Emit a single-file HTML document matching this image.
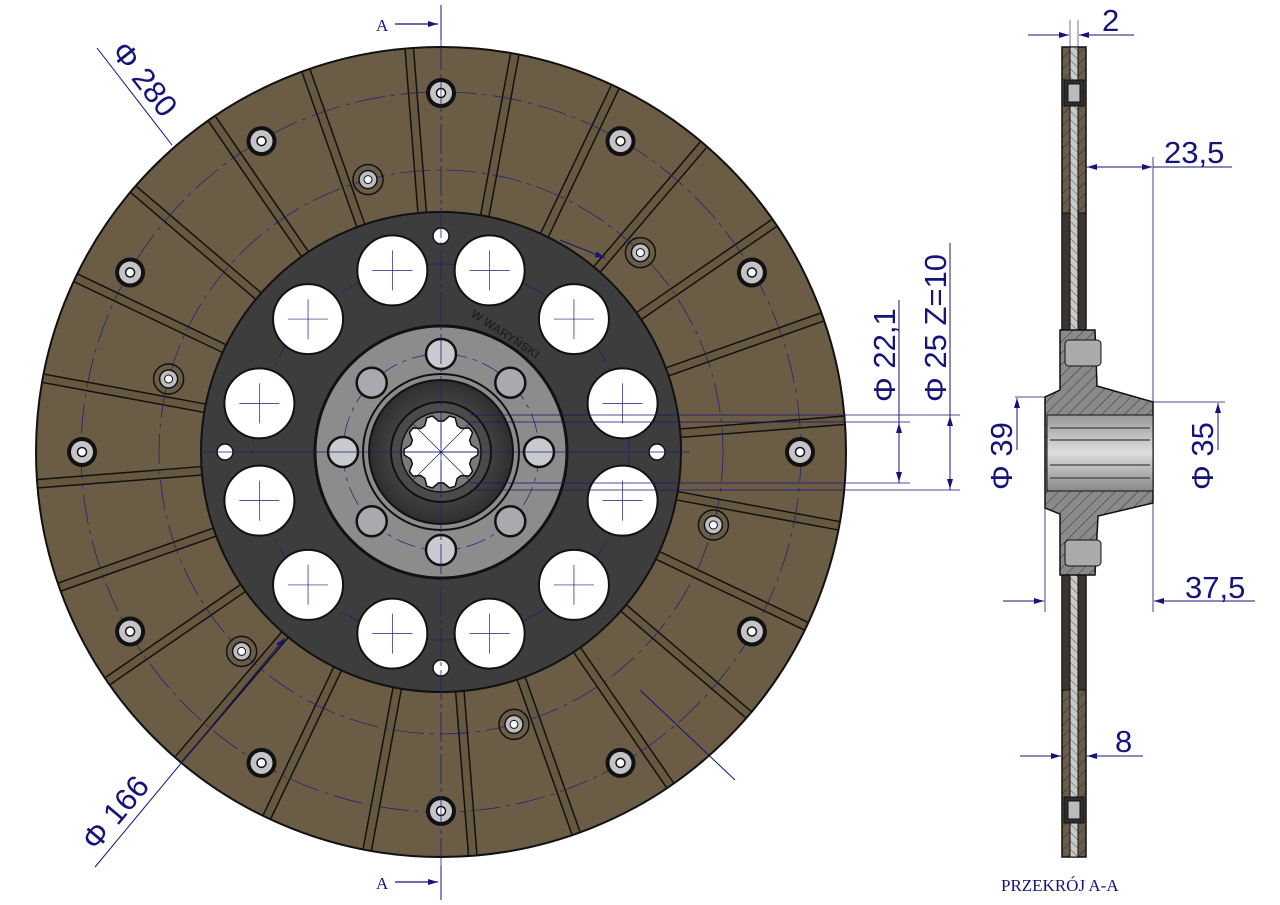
<!DOCTYPE html>
<html><head><meta charset="utf-8"><style>
html,body{margin:0;padding:0;background:#fff;}
svg{display:block;}
.dim{font-family:"Liberation Sans",sans-serif;font-size:31px;fill:#14147a;}
</style></head><body>
<svg id="s" width="1280" height="905" viewBox="0 0 1280 905" xmlns="http://www.w3.org/2000/svg">
<defs>
<pattern id="hat" width="8" height="8" patternUnits="userSpaceOnUse" patternTransform="rotate(45)">
<rect width="8" height="8" fill="#8a8a8a"/><line x1="0" y1="0" x2="0" y2="8" stroke="#333" stroke-width="1"/></pattern>
<pattern id="hatb" width="8" height="8" patternUnits="userSpaceOnUse" patternTransform="rotate(45)">
<rect width="8" height="8" fill="#6a5c48"/><line x1="0" y1="0" x2="0" y2="8" stroke="#2a2a2a" stroke-width="1"/></pattern>
<pattern id="hatl" width="6" height="6" patternUnits="userSpaceOnUse" patternTransform="rotate(-45)">
<rect width="6" height="6" fill="#c9c9c9"/><line x1="0" y1="0" x2="0" y2="6" stroke="#555" stroke-width="1"/></pattern>
<radialGradient id="hubg" cx="0.5" cy="0.5" r="0.5"><stop offset="0" stop-color="#6a6a6a"/><stop offset="1" stop-color="#2e2e2e"/></radialGradient>
<linearGradient id="spl" x1="0" y1="0" x2="0" y2="1"><stop offset="0" stop-color="#999"/><stop offset="0.5" stop-color="#ddd"/><stop offset="1" stop-color="#888"/></linearGradient>
<marker id="ar" viewBox="0 0 10 6" refX="10" refY="3" markerWidth="18" markerHeight="6" markerUnits="userSpaceOnUse" orient="auto"><path d="M0,0 L10,3 L0,6 Z" fill="#14147a"/></marker>
</defs>
<circle cx="441" cy="452" r="405" fill="#6b5c45" stroke="#111" stroke-width="2"/>
<g id="grooves"></g>
<circle cx="441" cy="452" r="240" fill="#3d3d3d" stroke="#111" stroke-width="2"/>
<g id="plate"></g>
<circle cx="441" cy="452" r="126" fill="#8c8c8c" stroke="#111" stroke-width="3"/>
<circle cx="441" cy="452" r="78" fill="none" stroke="#111" stroke-width="2"/>
<circle cx="441" cy="452" r="72" fill="url(#hubg)" stroke="#111" stroke-width="2"/>
<circle cx="441" cy="452" r="50" fill="#4a4a4a" stroke="#111" stroke-width="2"/>
<circle cx="441" cy="452" r="40" fill="#7a7a7a" stroke="#111" stroke-width="1.5"/>
<g id="hub"></g>
<text x="0" y="0" transform="translate(470,316) rotate(33)" font-family="Liberation Sans,sans-serif" font-size="12" font-weight="bold" fill="#222">W WARYŃSKI</text>
<line x1="441" y1="5" x2="441" y2="40" stroke="#14147a" stroke-width="1"/>
<line x1="441" y1="40" x2="441" y2="866" stroke="#1c1c7a" stroke-width="0.8" stroke-dasharray="30 4 4 4"/>
<line x1="441" y1="866" x2="441" y2="900" stroke="#14147a" stroke-width="1"/>
<line x1="200" y1="452" x2="690" y2="452" stroke="#1c1c7a" stroke-width="0.8"/>
<text x="376" y="31" font-family="Liberation Serif,serif" font-size="17" fill="#14147a">A</text>
<line x1="395" y1="24" x2="438" y2="24" stroke="#14147a" stroke-width="1.2" marker-end="url(#ar)"/>
<text x="376" y="889" font-family="Liberation Serif,serif" font-size="17" fill="#14147a">A</text>
<line x1="395" y1="882" x2="438" y2="882" stroke="#14147a" stroke-width="1.2" marker-end="url(#ar)"/>
<line x1="97" y1="48" x2="172" y2="145" stroke="#14147a" stroke-width="1"/>
<text class="dim" transform="translate(110,52) rotate(52)">Φ 280</text>
<line x1="95" y1="867" x2="285" y2="638" stroke="#14147a" stroke-width="1" marker-end="url(#ar)"/>
<text class="dim" transform="translate(96,852) rotate(-50)">Φ 166</text>
<line x1="640" y1="690" x2="735" y2="780" stroke="#14147a" stroke-width="1"/>
<line x1="560" y1="240" x2="605" y2="258" stroke="#14147a" stroke-width="1" marker-end="url(#ar)"/>
<line x1="470" y1="415" x2="960" y2="415" stroke="#14147a" stroke-width="0.8"/>
<line x1="470" y1="422" x2="910" y2="422" stroke="#14147a" stroke-width="0.8"/>
<line x1="470" y1="483" x2="910" y2="483" stroke="#14147a" stroke-width="0.8"/>
<line x1="470" y1="490" x2="960" y2="490" stroke="#14147a" stroke-width="0.8"/>
<line x1="899" y1="300" x2="899" y2="483" stroke="#14147a" stroke-width="1"/>
<line x1="899" y1="440" x2="899" y2="423" stroke="#14147a" stroke-width="1" marker-end="url(#ar)"/>
<line x1="899" y1="465" x2="899" y2="482" stroke="#14147a" stroke-width="1" marker-end="url(#ar)"/>
<line x1="950" y1="243" x2="950" y2="490" stroke="#14147a" stroke-width="1"/>
<line x1="950" y1="435" x2="950" y2="416" stroke="#14147a" stroke-width="1" marker-end="url(#ar)"/>
<line x1="950" y1="470" x2="950" y2="489" stroke="#14147a" stroke-width="1" marker-end="url(#ar)"/>
<text class="dim" transform="translate(895,402) rotate(-90)">Φ 22,1</text>
<text class="dim" transform="translate(946,402) rotate(-90)">Φ 25  Z=10</text>
<rect x="1062" y="47" width="24" height="810" fill="url(#hatb)" stroke="#111" stroke-width="1.5"/>
<rect x="1062" y="213" width="24" height="117" fill="#3a3530" stroke="#111" stroke-width="1"/>
<rect x="1062" y="575" width="24" height="115" fill="#3a3530" stroke="#111" stroke-width="1"/>
<rect x="1070" y="47" width="8" height="810" fill="url(#hatl)" stroke="#111" stroke-width="1"/>
<g fill="#bbb" stroke="#111" stroke-width="1">
<rect x="1064" y="80" width="20" height="26" fill="#2e2e2e"/><rect x="1068" y="84" width="12" height="18" fill="#bbb"/>
<rect x="1064" y="797" width="20" height="26" fill="#2e2e2e"/><rect x="1068" y="801" width="12" height="18" fill="#bbb"/>
</g>
<polygon points="1060,330 1095,330 1097,386 1153,402 1153,503 1098,516 1095,575 1060,575 1060,514 1045,508 1045,397 1060,390" fill="url(#hat)" stroke="#111" stroke-width="1.5"/>
<rect x="1047" y="415" width="106" height="76" fill="url(#spl)" stroke="#111" stroke-width="1"/>
<g stroke="#555" stroke-width="1.5"><line x1="1050" y1="428" x2="1150" y2="428"/><line x1="1050" y1="440" x2="1150" y2="440"/><line x1="1050" y1="465" x2="1150" y2="465"/><line x1="1050" y1="478" x2="1150" y2="478"/></g>
<g fill="#aaa" stroke="#111" stroke-width="1">
<rect x="1065" y="340" width="36" height="26" rx="4"/><rect x="1065" y="540" width="36" height="26" rx="4"/>
</g>
<line x1="1070" y1="20" x2="1070" y2="47" stroke="#14147a" stroke-width="0.6"/>
<line x1="1078" y1="20" x2="1078" y2="47" stroke="#14147a" stroke-width="0.6"/>
<line x1="1028" y1="35" x2="1069" y2="35" stroke="#14147a" stroke-width="1" marker-end="url(#ar)"/>
<line x1="1134" y1="35" x2="1079" y2="35" stroke="#14147a" stroke-width="1" marker-end="url(#ar)"/>
<text class="dim" x="1102" y="31">2</text>
<line x1="1153" y1="157" x2="1153" y2="402" stroke="#14147a" stroke-width="0.8"/>
<line x1="1130" y1="167" x2="1087" y2="167" stroke="#14147a" stroke-width="1" marker-end="url(#ar)"/>
<line x1="1110" y1="167" x2="1152" y2="167" stroke="#14147a" stroke-width="1" marker-end="url(#ar)"/>
<line x1="1153" y1="167" x2="1232" y2="167" stroke="#14147a" stroke-width="1"/>
<text class="dim" x="1164" y="163">23,5</text>
<line x1="1045" y1="508" x2="1045" y2="612" stroke="#14147a" stroke-width="0.8"/>
<line x1="1153" y1="503" x2="1153" y2="612" stroke="#14147a" stroke-width="0.8"/>
<line x1="1003" y1="601" x2="1044" y2="601" stroke="#14147a" stroke-width="1" marker-end="url(#ar)"/>
<line x1="1255" y1="601" x2="1154" y2="601" stroke="#14147a" stroke-width="1" marker-end="url(#ar)"/>
<text class="dim" x="1185" y="598">37,5</text>
<line x1="1020" y1="756" x2="1061" y2="756" stroke="#14147a" stroke-width="1" marker-end="url(#ar)"/>
<line x1="1143" y1="756" x2="1087" y2="756" stroke="#14147a" stroke-width="1" marker-end="url(#ar)"/>
<text class="dim" x="1115" y="752">8</text>
<line x1="1015" y1="397" x2="1045" y2="397" stroke="#14147a" stroke-width="0.8"/>
<line x1="1017" y1="450" x2="1017" y2="398" stroke="#14147a" stroke-width="1" marker-end="url(#ar)"/>
<text class="dim" transform="translate(1012,490) rotate(-90)">Φ 39</text>
<line x1="1153" y1="402" x2="1225" y2="402" stroke="#14147a" stroke-width="0.8"/>
<line x1="1218" y1="450" x2="1218" y2="403" stroke="#14147a" stroke-width="1" marker-end="url(#ar)"/>
<text class="dim" transform="translate(1213,490) rotate(-90)">Φ 35</text>
<text x="1001" y="891" font-family="Liberation Serif,serif" font-size="17" fill="#14147a">PRZEKRÓJ A-A</text>
</svg>
<script>
var NS="http://www.w3.org/2000/svg",cx=441,cy=452;
function el(p,t,a){var e=document.createElementNS(NS,t);for(var k in a)e.setAttribute(k,a[k]);p.appendChild(e);return e;}
function pt(r,d){var a=d*Math.PI/180;return [cx+r*Math.sin(a),cy-r*Math.cos(a)];}
var g=document.getElementById('grooves');
for(var i=0;i<24;i++){var d=-4.5+15*i,a=pt(238,d),b=pt(404,d);
el(g,'line',{x1:a[0],y1:a[1],x2:b[0],y2:b[1],stroke:'#111','stroke-width':10});
el(g,'line',{x1:a[0],y1:a[1],x2:b[0],y2:b[1],stroke:'#66573f','stroke-width':7});}
el(g,'circle',{cx:cx,cy:cy,r:360,fill:'none',stroke:'#1c1c7a','stroke-width':0.7,'stroke-dasharray':'30 6 4 6'});
el(g,'circle',{cx:cx,cy:cy,r:282,fill:'none',stroke:'#1c1c7a','stroke-width':0.7,'stroke-dasharray':'30 6 4 6'});
for(var i=0;i<12;i++){var p=pt(359,30*i);
el(g,'circle',{cx:p[0],cy:p[1],r:15,fill:'#111'});
el(g,'circle',{cx:p[0],cy:p[1],r:11,fill:'#c4c4c8'});
el(g,'circle',{cx:p[0],cy:p[1],r:4.5,fill:'#fff',stroke:'#111','stroke-width':1.5});}
for(var i=0;i<6;i++){var p=pt(282,345+60*i);
el(g,'circle',{cx:p[0],cy:p[1],r:15,fill:'none',stroke:'#111','stroke-width':1.5});
el(g,'circle',{cx:p[0],cy:p[1],r:9,fill:'#bdbdc2',stroke:'#111','stroke-width':1.5});
el(g,'circle',{cx:p[0],cy:p[1],r:4,fill:'#fff',stroke:'#111','stroke-width':1});}
var pl=document.getElementById('plate');
el(pl,'circle',{cx:cx,cy:cy,r:188,fill:'none',stroke:'#1c1c7a','stroke-width':0.7,'stroke-dasharray':'30 6 4 6'});
for(var i=0;i<12;i++){var p=pt(188,15+30*i);
el(pl,'circle',{cx:p[0],cy:p[1],r:35,fill:'#fff',stroke:'#111','stroke-width':2});
el(pl,'line',{x1:p[0]-20,y1:p[1],x2:p[0]+20,y2:p[1],stroke:'#1c1c7a','stroke-width':0.7});
el(pl,'line',{x1:p[0],y1:p[1]-20,x2:p[0],y2:p[1]+20,stroke:'#1c1c7a','stroke-width':0.7});}
for(var i=0;i<4;i++){var p=pt(216,90*i);
el(pl,'circle',{cx:p[0],cy:p[1],r:8,fill:'#fff',stroke:'#111','stroke-width':1.5});}
var h=document.getElementById('hub');
el(h,'circle',{cx:cx,cy:cy,r:98,fill:'none',stroke:'#1c1c7a','stroke-width':0.7,'stroke-dasharray':'20 6 4 6'});
for(var i=0;i<8;i++){var p=pt(98,45*i);
el(h,'circle',{cx:p[0],cy:p[1],r:15,fill:i%2?'#a9a9b0':'#c9c9d0',stroke:'#111','stroke-width':2.5});}
var s='';for(var i=0;i<20;i++){var d=i*18,r=(i%2)?37:31,p=pt(r,d-4.5),q=pt(r,d+4.5);s+=(i?'L':'M')+p[0]+','+p[1]+'L'+q[0]+','+q[1];}
el(h,'path',{d:s+'Z',fill:'#fff',stroke:'#111','stroke-width':1.5});
for(var i=0;i<4;i++){var a=pt(40,45*i),b=pt(40,45*i+180);
el(h,'line',{x1:a[0],y1:a[1],x2:b[0],y2:b[1],stroke:'#1c1c7a','stroke-width':0.7});}
</script>
</body></html>
